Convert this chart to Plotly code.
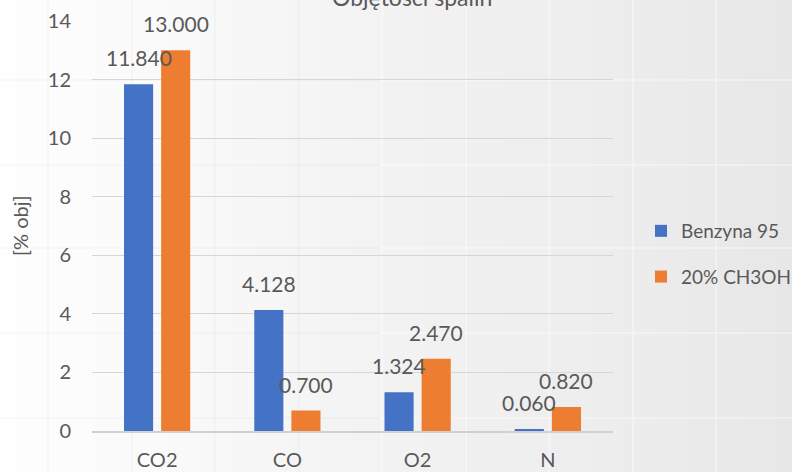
import plotly.graph_objects as go

categories = ["CO2", "CO", "O2", "N"]
benzyna = [11.840, 4.128, 1.324, 0.060]
metanol = [13.000, 0.700, 2.470, 0.820]
series_names = ["Benzyna 95", "20% CH3OH"]
colors = ["#4472C4", "#ED7D31"]
y_ticks = [0, 2, 4, 6, 8, 10, 12, 14]
title_text = "Objętości spalin"
y_title = "[% obj]"

W, H = 792, 472
L, R, T, B = 92, 613, 21, 431  # plot area in pixels
FONT = "Lato"
TXT = "#595959"


def px_x(p):
    return (p - L) / (R - L)


def px_y(p):
    return (B - p) / (B - T)


fig = go.Figure()
for name, vals, col in zip(series_names, [benzyna, metanol], colors):
    fig.add_trace(go.Bar(
        x=categories, y=vals, name=name, marker_color=col,
        marker_line_width=0, legendgroup=name,
    ))

# data labels
for k, vals in enumerate([benzyna, metanol]):
    shift = -18.5 if k == 0 else 18.5
    for c, v in zip(categories, vals):
        fig.add_annotation(
            x=c, y=v, xref="x", yref="y", text=f"{v:.3f}", showarrow=False,
            xshift=shift, yshift=12, yanchor="bottom", xanchor="center",
            font=dict(family=FONT, size=21, color=TXT),
        )

# background gradient stripes (decorative)
stops = [(0, 254), (150, 250), (400, 242), (613, 237), (792, 231)]


def bg(p):
    for (a, ca), (b, cb) in zip(stops, stops[1:]):
        if a <= p <= b:
            return ca + (cb - ca) * (p - a) / (b - a)
    return stops[-1][1]


shapes = []
step = 8
for x0 in range(0, W, step):
    g = int(round(bg(x0 + step / 2)))
    shapes.append(dict(type="rect", xref="paper", yref="paper",
                       x0=px_x(x0), x1=px_x(min(x0 + step + 1, W)),
                       y0=px_y(H), y1=px_y(0), line_width=0,
                       fillcolor=f"rgb({g},{g},{g})", layer="below"))

# faint spreadsheet cell lines
for vx in [48, 132, 215, 299, 382, 466, 549, 633, 716]:
    col = "rgba(0,0,0,0.045)" if vx < 380 else "rgba(255,255,255,0.65)"
    shapes.append(dict(type="line", xref="paper", yref="paper",
                       x0=px_x(vx), x1=px_x(vx), y0=px_y(H), y1=px_y(0),
                       line=dict(color=col, width=1), layer="below"))
for hy in [80, 165, 248, 333, 418]:
    shapes.append(dict(type="line", xref="paper", yref="paper",
                       x0=px_x(0), x1=px_x(380), y0=px_y(hy), y1=px_y(hy),
                       line=dict(color="rgba(0,0,0,0.045)", width=1), layer="below"))
    shapes.append(dict(type="line", xref="paper", yref="paper",
                       x0=px_x(380), x1=px_x(W), y0=px_y(hy), y1=px_y(hy),
                       line=dict(color="rgba(255,255,255,0.65)", width=1), layer="below"))

# title (partly cut off at the top) and y-axis title
fig.add_annotation(x=px_x(412), y=px_y(13), xref="paper", yref="paper",
                   text=title_text, showarrow=False, yanchor="bottom",
                   font=dict(family=FONT, size=23, color=TXT))
fig.add_annotation(x=px_x(23), y=px_y(226), xref="paper", yref="paper",
                   text=y_title, showarrow=False, textangle=-90, xshift=-17,
                   font=dict(family=FONT, size=20, color=TXT))

fig.update_layout(
    width=W, height=H,
    margin=dict(l=L, r=W - R, t=T, b=H - B, pad=0, autoexpand=False),
    paper_bgcolor="white", plot_bgcolor="rgba(0,0,0,0)",
    font=dict(family=FONT, size=20, color=TXT),
    barmode="group", bargap=0.43, bargroupgap=0.216,
    shapes=shapes,
    showlegend=True,
    legend=dict(x=px_x(641), y=px_y(212), xanchor="left", yanchor="top",
                font=dict(family=FONT, size=19, color=TXT),
                bgcolor="rgba(0,0,0,0)", tracegroupgap=18,
                itemwidth=30),
)
fig.update_yaxes(range=[0, 14], tickvals=y_ticks, showgrid=True,
                 gridcolor="#d6d6d6", gridwidth=1.3, zeroline=False,
                 showline=False, ticks="", ticklabelstandoff=20,
                 automargin=False,
                 tickfont=dict(family=FONT, size=20, color=TXT))
fig.update_xaxes(showline=True, linecolor="#d0d0d0", linewidth=1.5,
                 ticks="", ticklabelstandoff=10, automargin=False,
                 tickfont=dict(family=FONT, size=20, color=TXT))

fig.write_html("out.html")
